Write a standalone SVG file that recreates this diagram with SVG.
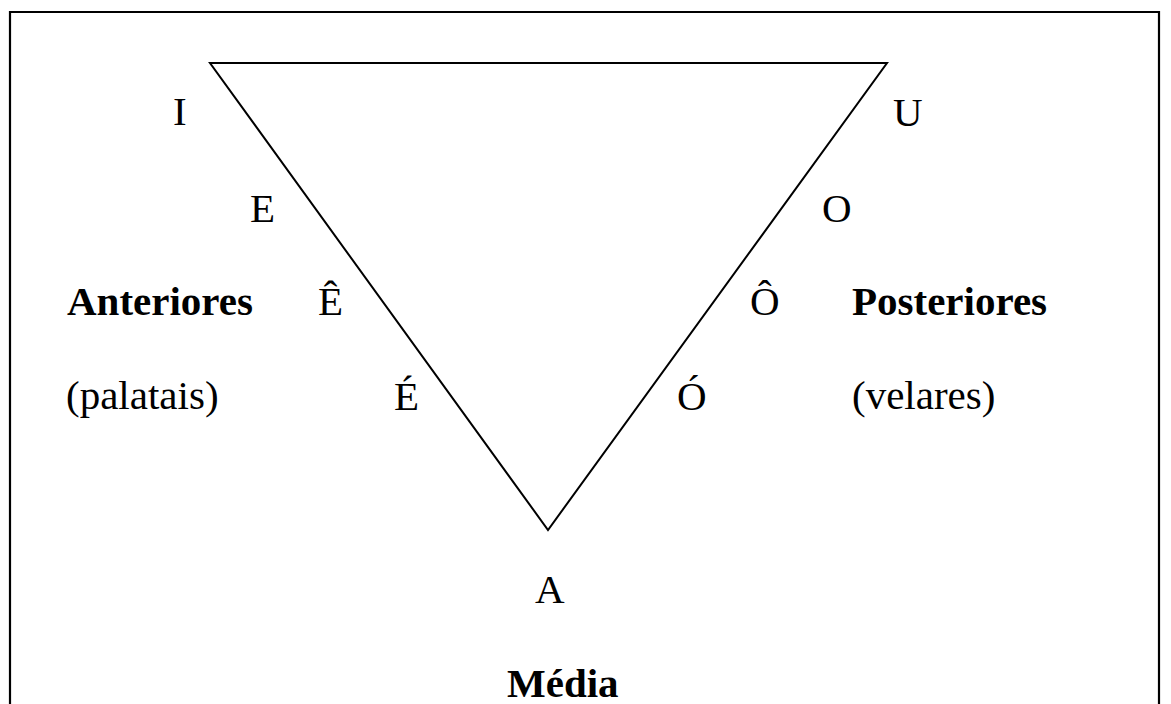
<svg xmlns="http://www.w3.org/2000/svg" width="1171" height="704" viewBox="0 0 1171 704">
<style>
.t{font-family:"Liberation Serif","Times New Roman",serif;font-size:41px;fill:#000}
.b{font-weight:bold}
.ln{fill:none;stroke:#000;stroke-width:2}
</style>
<rect x="0" y="0" width="1171" height="704" fill="#fff"/>
<path d="M10 720 V12 H1159 V720" fill="none" stroke="#000" stroke-width="2.2"/>
<g id="connectors">
<polygon class="ln" points="210,63 887,63 548,530"/>
</g>
<g id="node-I"><text class="t" x="173" y="125">I</text></g>
<g id="node-U"><text class="t" x="893" y="126">U</text></g>
<g id="node-E"><text class="t" x="250" y="222">E</text></g>
<g id="node-O"><text class="t" x="822" y="222">O</text></g>
<g id="node-Anteriores"><text class="t b" x="67" y="315">Anteriores</text></g>
<g id="node-Ecirc"><text class="t" x="318" y="315">Ê</text></g>
<g id="node-Ocirc"><text class="t" x="750" y="315">Ô</text></g>
<g id="node-Posteriores"><text class="t b" x="852" y="315">Posteriores</text></g>
<g id="node-palatais"><text class="t" x="66" y="409">(palatais)</text></g>
<g id="node-Eacute"><text class="t" x="394" y="410">É</text></g>
<g id="node-Oacute"><text class="t" x="677" y="410">Ó</text></g>
<g id="node-velares"><text class="t" x="852" y="409">(velares)</text></g>
<g id="node-A"><text class="t" x="535" y="603">A</text></g>
<g id="node-Media"><text class="t b" x="507" y="697">Média</text></g>
</svg>
